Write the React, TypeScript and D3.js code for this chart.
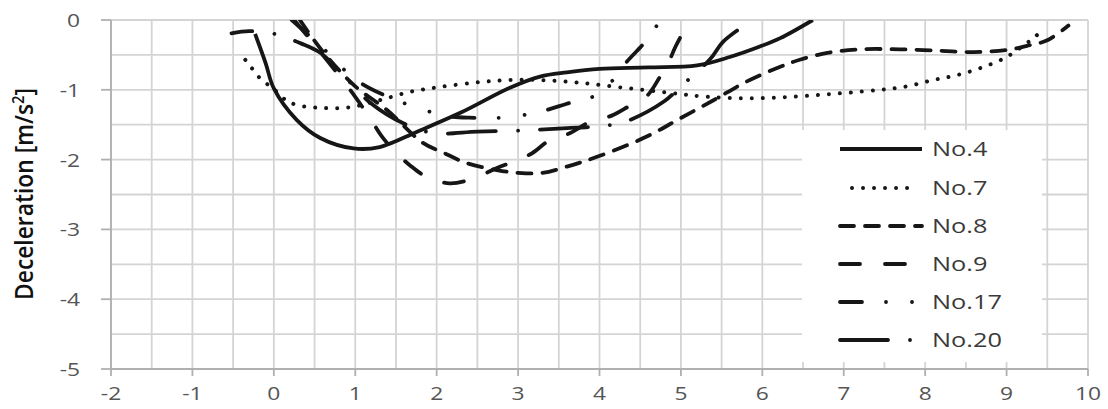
import React from "react";
import * as d3 from "d3";

// ---- data ----
const xTicks = [-2, -1, 0, 1, 2, 3, 4, 5, 6, 7, 8, 9, 10];
const yTicks = [0, -1, -2, -3, -4, -5];
const seriesNames = ["No.4", "No.7", "No.8", "No.9", "No.17", "No.20"];

const no4X = [-0.23, -0.1, 0.0, 0.28, 0.57, 0.98, 1.3, 1.76, 2.29, 2.9, 3.27, 3.6, 4.0, 4.6, 5.2, 5.6, 5.97, 6.22, 6.62];
const no4Y = [-0.2, -0.62, -0.98, -1.43, -1.69, -1.84, -1.82, -1.6, -1.33, -0.97, -0.81, -0.75, -0.7, -0.68, -0.65, -0.53, -0.38, -0.26, 0];

const no7X = [-0.35, -0.27, -0.19, -0.08, 0.01, 0.15, 0.29, 0.6, 0.94, 1.2, 1.39, 1.67, 2.04, 2.53, 2.9, 3.27, 3.76, 4.29, 4.84, 5.32, 5.97, 6.96, 7.45, 7.78, 8.1, 8.39, 8.7, 9.0, 9.25, 9.35, 9.47];
const no7Y = [-0.57, -0.69, -0.81, -0.92, -1.0, -1.15, -1.22, -1.26, -1.25, -1.18, -1.12, -1.03, -0.96, -0.89, -0.86, -0.86, -0.9, -0.97, -1.04, -1.1, -1.12, -1.05, -1.0, -0.95, -0.86, -0.79, -0.68, -0.53, -0.33, -0.24, -0.11];

const no8X = [0.32, 0.6, 1.0, 1.39, 1.83, 2.08, 2.37, 2.74, 3.0, 3.3, 3.6, 3.97, 4.58, 4.99, 5.4, 5.81, 6.22, 6.46, 6.8, 7.2, 7.69, 8.18, 8.6, 9.0, 9.25, 9.5, 9.76];
const no8Y = [0, -0.45, -0.95, -1.29, -1.76, -1.9, -2.05, -2.15, -2.19, -2.19, -2.1, -1.96, -1.67, -1.41, -1.15, -0.88, -0.67, -0.57, -0.47, -0.42, -0.42, -0.44, -0.46, -0.43, -0.37, -0.29, -0.08];

const no9X = [0.25, 0.6, 1.0, 1.22, 1.34, 1.5, 1.67, 1.88, 2.16, 2.45, 2.74, 2.94, 3.17, 3.39, 3.64, 3.88, 4.15, 4.37, 4.58, 4.74, 4.84, 4.93, 5.03, 5.12];
const no9Y = [0, -0.5, -1.1, -1.48, -1.69, -1.9, -2.08, -2.25, -2.34, -2.27, -2.12, -2.03, -1.91, -1.72, -1.62, -1.46, -1.37, -1.23, -1.09, -0.82, -0.63, -0.39, -0.17, 0];

const no17X = [0.22, 0.6, 1.0, 1.4, 1.8, 2.1, 2.4, 2.8, 3.25, 3.6, 3.95, 4.15, 4.32, 4.57, 4.75];
const no17Y = [0, -0.4, -0.85, -1.1, -1.27, -1.37, -1.4, -1.4, -1.32, -1.2, -1.08, -0.88, -0.62, -0.3, 0];

const no20X = [-0.52, -0.3, 0.05, 0.32, 0.57, 0.9, 1.2, 1.59, 1.96, 2.5, 3.1, 3.6, 4.0, 4.31, 4.8, 4.99, 5.36, 5.52, 5.88];
const no20Y = [-0.19, -0.16, -0.21, -0.33, -0.47, -0.85, -1.2, -1.48, -1.62, -1.6, -1.58, -1.55, -1.52, -1.46, -1.16, -0.96, -0.56, -0.31, 0];

const seriesX = [no4X, no7X, no8X, no9X, no17X, no20X];
const seriesY = [no4Y, no7Y, no8Y, no9Y, no17Y, no20Y];
const dashes = ["", "0.01 11", "14 11", "20 25", "22 24 0.01 26 0.01 24", "48 22 0.01 22"];
const dashOffsets = [0, 0, 0, 0, 0, 27];

const W = 1108;
const H = 409;
const L = 111, R = 1088, T = 20, B = 369;

export default function App() {
  const x = d3.scaleLinear().domain([-2, 10]).range([L, R]);
  const y = d3.scaleLinear().domain([-5, 0]).range([B, T]);
  const line = d3
    .line<[number, number]>()
    .x((d) => x(d[0]))
    .y((d) => y(d[1]))
    .curve(d3.curveCatmullRom.alpha(0.5));

  const gridX = d3.range(-2, 10.001, 0.5);
  const gridY = d3.range(-5, 0.001, 0.5);
  const font = "'Open Sans', 'Noto Sans', sans-serif";
  const ink = "#161616";
  const lw = 3.8;

  const legendRows = [149, 188, 226, 264, 302, 340];

  return (
    <svg width={W} height={H} style={{ display: "block", position: "absolute", left: 0, top: 0, background: "#fff" }}>
      <defs>
        <clipPath id="plot">
          <rect x={L} y={T} width={R - L} height={B - T} />
        </clipPath>
      </defs>
      <rect x={0} y={0} width={W} height={H} fill="#fff" />
      {/* grid */}
      {gridX.map((v, i) => (
        <line key={"gx" + i} x1={x(v)} x2={x(v)} y1={T} y2={B} stroke="#d4d4d4" strokeWidth={1.8} />
      ))}
      {gridY.map((v, i) => (
        <line key={"gy" + i} x1={L} x2={R} y1={y(v)} y2={y(v)} stroke="#d4d4d4" strokeWidth={1.8} />
      ))}
      {/* axes */}
      <line x1={L} x2={L} y1={T} y2={B} stroke="#b0b0b0" strokeWidth={1.8} />
      <line x1={L} x2={R} y1={B} y2={B} stroke="#b0b0b0" strokeWidth={1.8} />
      {yTicks.map((v) => (
        <line key={"yt" + v} x1={L - 10} x2={L} y1={y(v)} y2={y(v)} stroke="#b0b0b0" strokeWidth={1.8} />
      ))}
      {xTicks.map((v) => (
        <line key={"xt" + v} x1={x(v)} x2={x(v)} y1={B} y2={B + 7} stroke="#b0b0b0" strokeWidth={1.8} />
      ))}
      {/* tick labels */}
      {yTicks.map((v) => (
        <g key={"yl" + v} transform={`translate(80,${y(v) + 7}) scale(1.2,1)`}>
          <text textAnchor="end" fontFamily={font} fontSize={19} fill="#555">
            {String(v)}
          </text>
        </g>
      ))}
      {xTicks.map((v) => (
        <g key={"xl" + v} transform={`translate(${x(v)},${400}) scale(1.2,1)`}>
          <text textAnchor="middle" fontFamily={font} fontSize={19} fill="#555">
            {String(v)}
          </text>
        </g>
      ))}
      {/* y title */}
      <g transform={`translate(33,194) scale(1.3,1) rotate(-90)`}>
        <text textAnchor="middle" fontFamily={font} fontSize={20} fontWeight={600} fill="#111" textLength={212} lengthAdjust="spacingAndGlyphs">
          Deceleration [m/s<tspan dy={-7} fontSize={13}>2</tspan><tspan dy={7}>]</tspan>
        </text>
      </g>
      {/* series */}
      <g clipPath="url(#plot)">
        {seriesX.map((xs, i) => {
          const pts = xs.map((v, j) => [v, seriesY[i][j]] as [number, number]);
          return (
            <path
              key={"s" + i}
              d={line(pts) || ""}
              fill="none"
              stroke={ink}
              strokeWidth={i === 1 ? 4 : lw}
              strokeDasharray={dashes[i] || undefined}
              strokeDashoffset={dashOffsets[i]}
              strokeLinecap={i === 0 ? "butt" : "round"}
            />
          );
        })}
      </g>
      {/* legend */}
      <rect x={802} y={130} width={240} height={232} fill="#fff" />
      {seriesNames.map((name, i) => (
        <g key={"lg" + i}>
          <line
            x1={i === 1 ? 852 : 840}
            x2={i === 1 ? 912 : 922}
            y1={legendRows[i]}
            y2={legendRows[i]}
            stroke={ink}
            strokeWidth={i === 1 ? 4 : lw}
            strokeDasharray={dashes[i] || undefined}
            strokeLinecap={i === 0 ? "butt" : "round"}
          />
          <g transform={`translate(932,${legendRows[i] + 7}) scale(1.3,1)`}>
            <text fontFamily={font} fontSize={19.5} fill="#3a3a3a">
              {name}
            </text>
          </g>
        </g>
      ))}
    </svg>
  );
}
